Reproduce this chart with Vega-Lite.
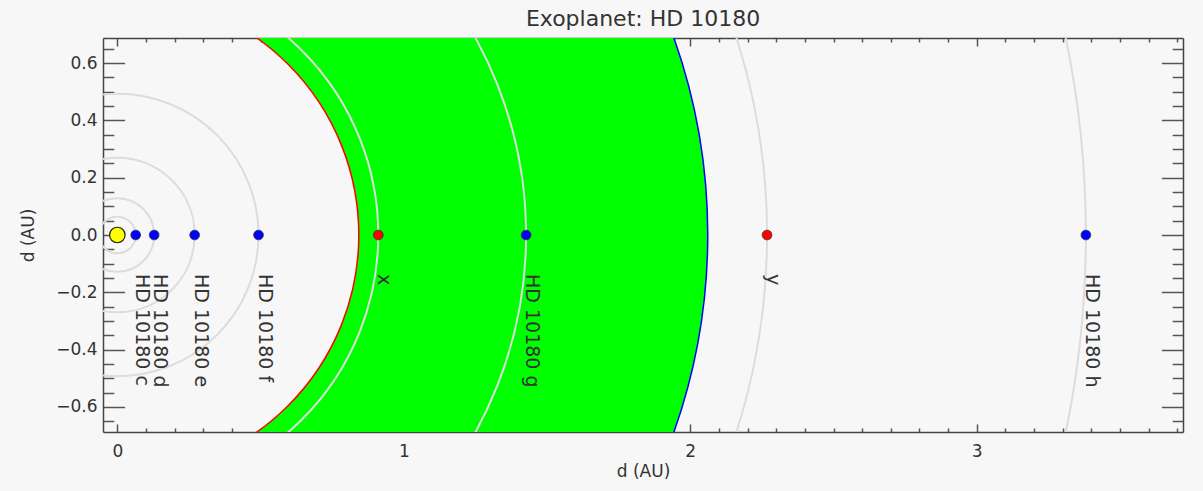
{
  "$schema": "https://vega.github.io/schema/vega-lite/v6.json",
  "width": 1080,
  "height": 394,
  "autosize": "none",
  "padding": {"left": 103, "top": 38, "right": 20, "bottom": 59},
  "background": "#f7f7f7",
  "config": {
    "view": {"stroke": null},
    "font": "DejaVu Sans",
    "axis": {
      "zindex": 1,
      "grid": false,
      "domainColor": "#444",
      "domainWidth": 1.5,
      "tickColor": "#555",
      "tickWidth": 1.5,
      "labelFont": "DejaVu Sans",
      "labelFontSize": 17,
      "labelColor": "#333",
      "titleFont": "DejaVu Sans",
      "titleFontSize": 17,
      "titleFontWeight": "normal",
      "titleColor": "#333",
      "labelOverlap": false,
      "labelFlush": false
    }
  },
  "title": {"text": "Exoplanet: HD 10180", "fontSize": 22, "fontWeight": "normal", "color": "#333", "offset": 6, "anchor": "middle", "font": "DejaVu Sans"},
  "datasets": {
    "hz": [{"zone": "habitable", "inner": 0.843, "outer": 2.061}],
    "planets": [
      {"name": "HD 10180 c", "a": 0.0641, "kind": "known"},
      {"name": "HD 10180 d", "a": 0.1286, "kind": "known"},
      {"name": "HD 10180 e", "a": 0.2699, "kind": "known"},
      {"name": "HD 10180 f", "a": 0.4929, "kind": "known"},
      {"name": "x", "a": 0.911, "kind": "hypothetical"},
      {"name": "HD 10180 g", "a": 1.427, "kind": "known"},
      {"name": "y", "a": 2.268, "kind": "hypothetical"},
      {"name": "HD 10180 h", "a": 3.381, "kind": "known"}
    ],
    "star": [{"name": "HD 10180", "a": 0}]
  },
  "layer": [
    {
      "data": {"name": "hz"},
      "mark": {"type": "arc", "fill": "#00ff00", "stroke": null, "theta": 0, "theta2": {"expr": "2*PI"}, "clip": true},
      "encoding": {
        "x": {"datum": 0, "type": "quantitative", "scale": {"domain": [-0.05, 3.72], "nice": false, "zero": false}, "axis": null},
        "y": {"datum": 0, "type": "quantitative", "scale": {"domain": [-0.6877, 0.6877], "nice": false, "zero": false}, "axis": null},
        "radius": {"field": "outer", "type": "quantitative", "stack": null, "scale": {"type": "linear", "domain": [0, 3.77], "range": [0, {"expr": "width"}], "nice": false, "zero": true}},
        "radius2": {"field": "inner"}
      }
    },
    {
      "data": {"name": "hz"},
      "mark": {"type": "arc", "filled": false, "stroke": "#ff0000", "strokeWidth": 1.5, "theta": 0, "theta2": {"expr": "2*PI"}, "clip": true},
      "encoding": {
        "x": {"datum": 0, "type": "quantitative", "scale": {"domain": [-0.05, 3.72], "nice": false, "zero": false}, "axis": null},
        "y": {"datum": 0, "type": "quantitative", "scale": {"domain": [-0.6877, 0.6877], "nice": false, "zero": false}, "axis": null},
        "radius": {"field": "inner", "type": "quantitative", "stack": null, "scale": {"type": "linear", "domain": [0, 3.77], "range": [0, {"expr": "width"}], "nice": false, "zero": true}}
      }
    },
    {
      "data": {"name": "hz"},
      "mark": {"type": "arc", "filled": false, "stroke": "#0000ff", "strokeWidth": 1.5, "theta": 0, "theta2": {"expr": "2*PI"}, "clip": true},
      "encoding": {
        "x": {"datum": 0, "type": "quantitative", "scale": {"domain": [-0.05, 3.72], "nice": false, "zero": false}, "axis": null},
        "y": {"datum": 0, "type": "quantitative", "scale": {"domain": [-0.6877, 0.6877], "nice": false, "zero": false}, "axis": null},
        "radius": {"field": "outer", "type": "quantitative", "stack": null, "scale": {"type": "linear", "domain": [0, 3.77], "range": [0, {"expr": "width"}], "nice": false, "zero": true}}
      }
    },
    {
      "data": {"name": "planets"},
      "mark": {"type": "arc", "filled": false, "stroke": "#dcdcdc", "strokeWidth": 2, "theta": 0, "theta2": {"expr": "2*PI"}, "clip": true},
      "encoding": {
        "x": {"datum": 0, "type": "quantitative", "scale": {"domain": [-0.05, 3.72], "nice": false, "zero": false}, "axis": null},
        "y": {"datum": 0, "type": "quantitative", "scale": {"domain": [-0.6877, 0.6877], "nice": false, "zero": false}, "axis": null},
        "radius": {"field": "a", "type": "quantitative", "stack": null, "scale": {"type": "linear", "domain": [0, 3.77], "range": [0, {"expr": "width"}], "nice": false, "zero": true}}
      }
    },
    {
      "data": {"name": "planets"},
      "mark": {"type": "point", "shape": "circle", "filled": true, "opacity": 1, "size": 95, "stroke": "#333", "strokeWidth": 0.8, "clip": true},
      "encoding": {
        "x": {
          "field": "a", "type": "quantitative",
          "scale": {"domain": [-0.05, 3.72], "nice": false, "zero": false},
          "axis": {
            "orient": "bottom",
            "values": [0,0.1,0.2,0.3,0.4,0.5,0.6,0.7,0.8,0.9,1,1.1,1.2,1.3,1.4,1.5,1.6,1.7,1.8,1.9,2,2.1,2.2,2.3,2.4,2.5,2.6,2.7,2.8,2.9,3,3.1,3.2,3.3,3.4,3.5,3.6,3.7],
            "labelExpr": "abs(datum.value - round(datum.value)) < 0.000001 ? format(datum.value, 'd') : ''",
            "tickSize": {"condition": {"test": "abs(datum.value - round(datum.value)) < 0.000001", "value": -8}, "value": -4},
            "labelPadding": 19,
            "title": "d (AU)",
            "titlePadding": 0
          }
        },
        "y": {
          "datum": 0, "type": "quantitative",
          "scale": {"domain": [-0.6877, 0.6877], "nice": false, "zero": false},
          "axis": {
            "orient": "left",
            "values": [-0.65,-0.6,-0.55,-0.5,-0.45,-0.4,-0.35,-0.3,-0.25,-0.2,-0.15,-0.1,-0.05,0,0.05,0.1,0.15,0.2,0.25,0.3,0.35,0.4,0.45,0.5,0.55,0.6,0.65],
            "labelExpr": "abs(datum.value*5 - round(datum.value*5)) < 0.000001 ? format(datum.value, '.1f') : ''",
            "tickSize": {"condition": {"test": "abs(datum.value*5 - round(datum.value*5)) < 0.000001", "value": -21.6}, "value": -10.8},
            "labelPadding": 27.6,
            "title": "d (AU)",
            "titlePadding": 18
          }
        },
        "color": {"field": "kind", "type": "nominal", "scale": {"domain": ["known", "hypothetical"], "range": ["#0000ff", "#ff0000"]}, "legend": null}
      }
    },
    {
      "data": {"name": "planets"},
      "mark": {"type": "text", "angle": 90, "align": "left", "baseline": "alphabetic", "dx": 39, "fontSize": 19, "color": "#333", "font": "DejaVu Sans", "clip": true},
      "encoding": {
        "x": {"field": "a", "type": "quantitative", "scale": {"domain": [-0.05, 3.72], "nice": false, "zero": false}, "axis": null},
        "y": {"datum": 0, "type": "quantitative", "scale": {"domain": [-0.6877, 0.6877], "nice": false, "zero": false}, "axis": null},
        "text": {"field": "name", "type": "nominal"}
      }
    },
    {
      "data": {"name": "star"},
      "mark": {"type": "point", "shape": "circle", "filled": true, "opacity": 1, "color": "#ffff00", "size": 240, "stroke": "#222", "strokeWidth": 1.2},
      "encoding": {
        "x": {
          "field": "a", "type": "quantitative",
          "scale": {"domain": [-0.05, 3.72], "nice": false, "zero": false},
          "axis": {
            "orient": "top",
            "values": [0,0.1,0.2,0.3,0.4,0.5,0.6,0.7,0.8,0.9,1,1.1,1.2,1.3,1.4,1.5,1.6,1.7,1.8,1.9,2,2.1,2.2,2.3,2.4,2.5,2.6,2.7,2.8,2.9,3,3.1,3.2,3.3,3.4,3.5,3.6,3.7],
            "labels": false,
            "tickSize": {"condition": {"test": "abs(datum.value - round(datum.value)) < 0.000001", "value": -8}, "value": -4},
            "title": null
          }
        },
        "y": {
          "datum": 0, "type": "quantitative",
          "scale": {"domain": [-0.6877, 0.6877], "nice": false, "zero": false},
          "axis": {
            "orient": "right",
            "values": [-0.65,-0.6,-0.55,-0.5,-0.45,-0.4,-0.35,-0.3,-0.25,-0.2,-0.15,-0.1,-0.05,0,0.05,0.1,0.15,0.2,0.25,0.3,0.35,0.4,0.45,0.5,0.55,0.6,0.65],
            "labels": false,
            "tickSize": {"condition": {"test": "abs(datum.value*5 - round(datum.value*5)) < 0.000001", "value": -21.6}, "value": -10.8},
            "title": null
          }
        }
      }
    }
  ],
  "resolve": {"axis": {"x": "independent", "y": "independent"}}
}
